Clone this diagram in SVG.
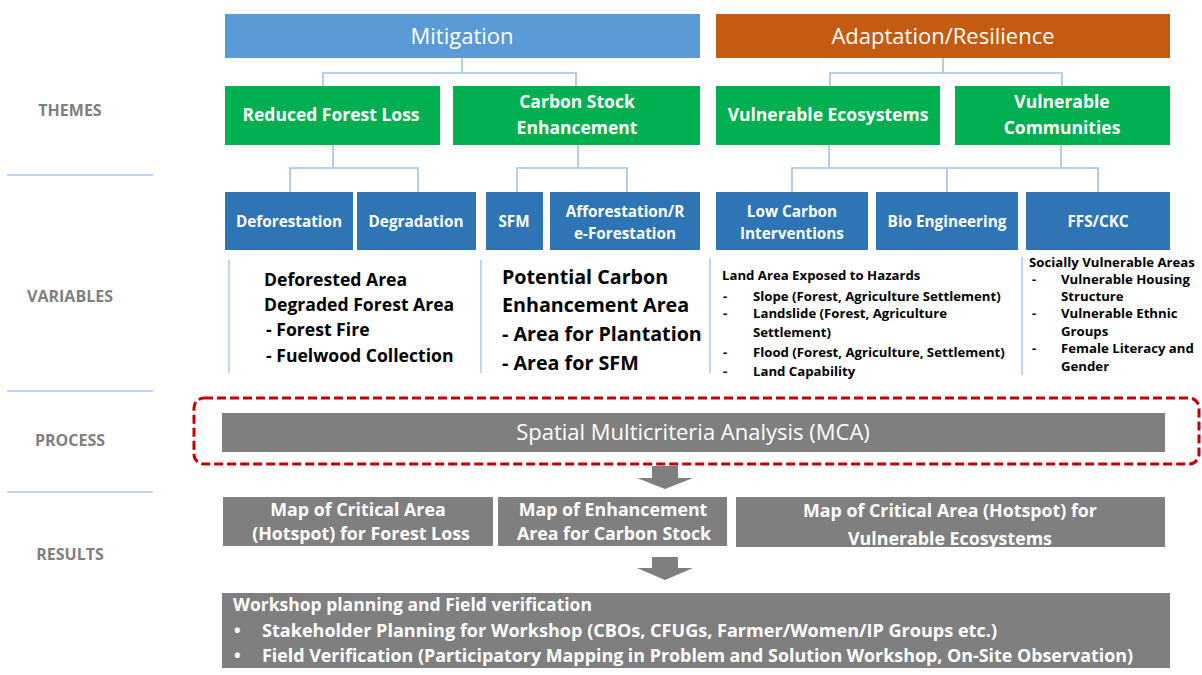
<svg xmlns="http://www.w3.org/2000/svg" width="1202" height="675" viewBox="0 0 1202 675">
<style>
text{font-family:"Open Sans",Lato,"Liberation Sans",sans-serif;}
.hdr{fill:#fff;font-size:22px;text-anchor:middle;}
.grn{fill:#00B050;}
.gt{fill:#fff;font-size:17.5px;font-weight:bold;text-anchor:middle;}
.blu{fill:#2E75B6;}
.bt{fill:#fff;font-size:15.3px;font-weight:bold;text-anchor:middle;}
.conn{stroke:#9DC3E6;stroke-width:1.6;fill:none;}
.side{fill:#7F7F7F;font-size:16px;font-weight:bold;text-anchor:middle;}
.sep{stroke:#BDD7EE;stroke-width:2;}
.vl{stroke:#BDD7EE;stroke-width:2;}
.v1{fill:#000;font-size:17.6px;font-weight:bold;}
.v2{fill:#000;font-size:19.7px;font-weight:bold;}
.v3{fill:#000;font-size:13.2px;font-weight:bold;}
.gry{fill:#7F7F7F;}
.rt{fill:#fff;font-size:17.8px;font-weight:bold;text-anchor:middle;}
.wt{fill:#fff;font-size:17.5px;font-weight:bold;}
</style>
<defs>
<clipPath id="clipR3"><rect x="736" y="497" width="429" height="50"/></clipPath>
</defs>
<rect width="1202" height="675" fill="#fff"/>

<g id="side-labels">
<text class="side" x="70" y="116">THEMES</text>
<text class="side" x="70" y="302">VARIABLES</text>
<text class="side" x="70" y="446">PROCESS</text>
<text class="side" x="70" y="560">RESULTS</text>
<line class="sep" x1="7" y1="175" x2="153" y2="175"/>
<line class="sep" x1="7" y1="391" x2="153" y2="391"/>
<line class="sep" x1="7" y1="492" x2="153" y2="492"/>
</g>

<g id="connectors">
<path class="conn" d="M462 58V73M323 86V73H576V86"/>
<path class="conn" d="M943 58V73M830 86V73H1062V86"/>
<path class="conn" d="M333 145V168M290 192V168H418V192"/>
<path class="conn" d="M578 145V168M517 192V168H627V192"/>
<path class="conn" d="M829 145V168M1061 145V168M792 192V168H1098V192M947 168V192"/>
</g>

<g id="mitigation"><rect x="225" y="14" width="475" height="44" fill="#5B9BD5"/><text class="hdr" x="462" y="44">Mitigation</text></g>
<g id="adaptation"><rect x="716" y="14" width="454" height="44" fill="#C55A11"/><text class="hdr" x="943" y="44">Adaptation/Resilience</text></g>

<g id="reduced-forest-loss"><rect class="grn" x="225" y="86" width="215" height="59"/><text class="gt" x="331" y="121">Reduced Forest Loss</text></g>
<g id="carbon-stock"><rect class="grn" x="453" y="86" width="247" height="59"/><text class="gt" x="577" y="108">Carbon Stock</text><text class="gt" x="577" y="134">Enhancement</text></g>
<g id="vulnerable-ecosystems"><rect class="grn" x="716" y="86" width="224" height="59"/><text class="gt" x="828" y="121">Vulnerable Ecosystems</text></g>
<g id="vulnerable-communities"><rect class="grn" x="955" y="86" width="215" height="59"/><text class="gt" x="1062" y="108">Vulnerable</text><text class="gt" x="1062" y="134">Communities</text></g>

<g id="deforestation"><rect class="blu" x="225" y="192" width="128" height="58"/><text class="bt" x="289" y="227">Deforestation</text></g>
<g id="degradation"><rect class="blu" x="357" y="192" width="119" height="58"/><text class="bt" x="416" y="227">Degradation</text></g>
<g id="sfm"><rect class="blu" x="486" y="192" width="57" height="58"/><text class="bt" x="514" y="227">SFM</text></g>
<g id="afforestation"><rect class="blu" x="550" y="192" width="150" height="58"/><text class="bt" x="625" y="217">Afforestation/R</text><text class="bt" x="625" y="239">e-Forestation</text></g>
<g id="low-carbon"><rect class="blu" x="716" y="192" width="152" height="58"/><text class="bt" x="792" y="217">Low Carbon</text><text class="bt" x="792" y="239">Interventions</text></g>
<g id="bio-engineering"><rect class="blu" x="876" y="192" width="142" height="58"/><text class="bt" x="947" y="227">Bio Engineering</text></g>
<g id="ffs-ckc"><rect class="blu" x="1026" y="192" width="144" height="58"/><text class="bt" x="1098" y="227">FFS/CKC</text></g>

<g id="var-forest-loss">
<line class="vl" x1="229" y1="260" x2="229" y2="373"/>
<text class="v1" x="264" y="286">Deforested Area</text>
<text class="v1" x="264" y="311">Degraded Forest Area</text>
<text class="v1" x="266" y="336">- Forest Fire</text>
<text class="v1" x="266" y="362">- Fuelwood Collection</text>
</g>
<g id="var-carbon">
<line class="vl" x1="481" y1="260" x2="481" y2="373"/>
<text class="v2" x="502" y="284">Potential Carbon</text>
<text class="v2" x="502" y="312">Enhancement Area</text>
<text class="v2" x="502" y="341">- Area for Plantation</text>
<text class="v2" x="502" y="370">- Area for SFM</text>
</g>
<g id="var-ecosystems">
<line class="vl" x1="710" y1="258" x2="710" y2="373"/>
<text class="v3" x="722" y="280">Land Area Exposed to Hazards</text>
<text class="v3" x="723" y="301">-</text><text class="v3" x="753" y="301">Slope (Forest, Agriculture Settlement)</text>
<text class="v3" x="723" y="318">-</text><text class="v3" x="753" y="318">Landslide (Forest, Agriculture</text>
<text class="v3" x="753" y="337">Settlement)</text>
<text class="v3" x="723" y="357">-</text><text class="v3" x="753" y="357">Flood (Forest, Agriculture, Settlement)</text>
<text class="v3" x="723" y="376">-</text><text class="v3" x="753" y="376">Land Capability</text>
</g>
<g id="var-communities">
<line class="vl" x1="1022" y1="257" x2="1022" y2="375"/>
<text class="v3" x="1029" y="267" font-size="11.5">Socially Vulnerable Areas</text>
<text class="v3" x="1032" y="284">-</text><text class="v3" x="1061" y="284" font-size="12.5">Vulnerable Housing</text>
<text class="v3" x="1061" y="301" font-size="12.5">Structure</text>
<text class="v3" x="1032" y="318">-</text><text class="v3" x="1061" y="318" font-size="12.5">Vulnerable Ethnic</text>
<text class="v3" x="1061" y="336" font-size="12.5">Groups</text>
<text class="v3" x="1032" y="353">-</text><text class="v3" x="1061" y="353" font-size="12.5">Female Literacy and</text>
<text class="v3" x="1061" y="371" font-size="12.5">Gender</text>
</g>

<g id="mca">
<rect x="194" y="398" width="1005" height="66" rx="10" fill="none" stroke="#C00000" stroke-width="3" stroke-dasharray="9,4"/>
<rect class="gry" x="222" y="413" width="943" height="39"/>
<text x="693" y="440" fill="#fff" font-size="22" text-anchor="middle">Spatial Multicriteria Analysis (MCA)</text>
</g>

<g id="arrows">
<path d="M652 466H678V478H693L665 489L637 478H652Z" fill="#7F7F7F"/>
<path d="M652 557H678V568H693L665 580L637 568H652Z" fill="#7F7F7F"/>
</g>

<g id="result-forest-loss"><rect class="gry" x="223" y="497" width="270" height="49"/><text class="rt" x="358" y="516">Map of Critical Area</text><text class="rt" x="361" y="540">(Hotspot) for Forest Loss</text></g>
<g id="result-carbon"><rect class="gry" x="498" y="497" width="229" height="49"/><text class="rt" x="613" y="516">Map of Enhancement</text><text class="rt" x="614" y="540">Area for Carbon Stock</text></g>
<g id="result-ecosystems"><rect class="gry" x="736" y="497" width="429" height="50"/><g clip-path="url(#clipR3)"><text class="rt" x="950" y="517" font-size="23">Map of Critical Area (Hotspot) for</text><text class="rt" x="950" y="545" font-size="23">Vulnerable Ecosystems</text></g></g>

<g id="workshop">
<rect class="gry" x="222" y="593" width="948" height="75"/>
<text class="wt" x="233" y="611">Workshop planning and Field verification</text>
<text class="wt" x="234" y="637" font-size="12">•</text><text class="wt" x="262" y="637" textLength="735" lengthAdjust="spacingAndGlyphs">Stakeholder Planning for Workshop (CBOs, CFUGs, Farmer/Women/IP Groups etc.)</text>
<text class="wt" x="234" y="662" font-size="12">•</text><text class="wt" x="262" y="662" textLength="871" lengthAdjust="spacingAndGlyphs">Field Verification (Participatory Mapping in Problem and Solution Workshop, On-Site Observation)</text>
</g>
</svg>
